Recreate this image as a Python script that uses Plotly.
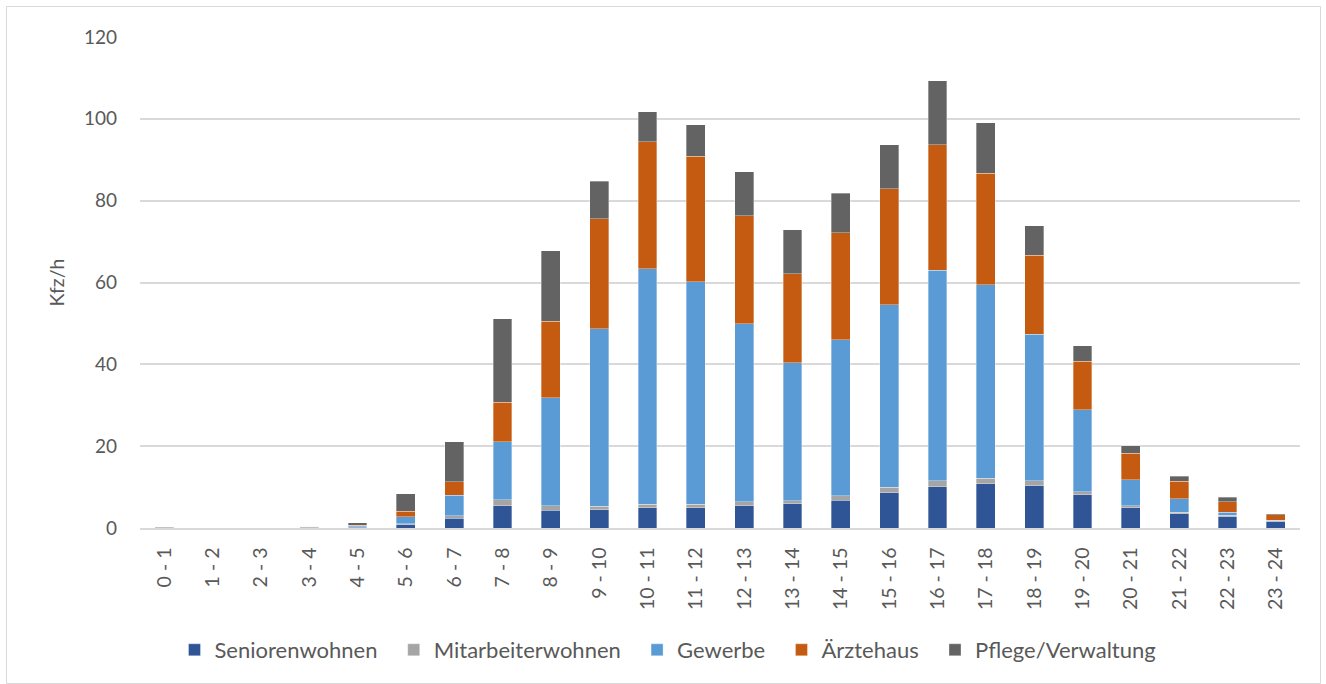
import plotly.graph_objects as go

categories = ["0 - 1", "1 - 2", "2 - 3", "3 - 4", "4 - 5", "5 - 6", "6 - 7", "7 - 8",
              "8 - 9", "9 - 10", "10 - 11", "11 - 12", "12 - 13", "13 - 14", "14 - 15",
              "15 - 16", "16 - 17", "17 - 18", "18 - 19", "19 - 20", "20 - 21", "21 - 22",
              "22 - 23", "23 - 24"]

seniorenwohnen = [0.1, 0.05, 0.05, 0.1, 0.2, 0.8, 2.4, 5.4, 4.4, 4.5, 4.9, 4.9, 5.5, 5.9,
                  6.8, 8.6, 10.1, 10.8, 10.3, 8.1, 4.9, 3.5, 2.7, 1.5]
mitarbeiterwohnen = [0.2, 0.05, 0.05, 0.3, 0.1, 0.3, 0.6, 1.5, 1.1, 0.8, 0.9, 0.9, 0.9, 0.8,
                     1.1, 1.3, 1.5, 1.3, 1.3, 0.8, 0.6, 0.3, 0.4, 0.3]
gewerbe = [0, 0, 0, 0, 0.2, 1.7, 5.0, 14.2, 26.3, 43.4, 57.6, 54.4, 43.5, 33.7, 38.1, 44.7,
           51.4, 47.3, 35.7, 20.0, 6.3, 3.4, 0.7, 0.1]
aerztehaus = [0, 0, 0, 0, 0.2, 1.3, 3.3, 9.6, 18.7, 26.9, 31.0, 30.6, 26.4, 21.8, 26.2, 28.3,
              30.7, 27.3, 19.3, 11.8, 6.5, 4.2, 2.6, 1.3]
pflege_verwaltung = [0, 0, 0, 0, 0.6, 4.3, 9.8, 20.4, 17.2, 9.1, 7.3, 7.8, 10.8, 10.7, 9.6,
                     10.8, 15.6, 12.4, 7.3, 3.9, 1.8, 1.3, 1.1, 0.3]

series_names = ["Seniorenwohnen", "Mitarbeiterwohnen", "Gewerbe", "Ärztehaus", "Pflege/Verwaltung"]
series_values = [seniorenwohnen, mitarbeiterwohnen, gewerbe, aerztehaus, pflege_verwaltung]
series_colors = ["#2F5597", "#A5A5A5", "#5B9BD5", "#C55A11", "#636363"]

FONT = "Lato"
TXT = "#595959"
PAD = "\u00a0\u00a0"

fig = go.Figure()
for i, (name, vals, col) in enumerate(zip(series_names, series_values, series_colors)):
    label = name + (PAD if i < len(series_names) - 1 else "")
    fig.add_trace(go.Bar(
        x=categories, y=vals, name=label,
        marker=dict(color=col, line=dict(color="rgba(255,255,255,0.55)", width=0.6)),
    ))

W, H = 1326, 684
ml, mr, mt, mb = 140, 26, 37, 156
pw = W - ml - mr
ph = H - mt - mb

def px_x(p):
    return (p - ml) / pw

def px_y(p):
    return (H - mb - p) / ph

fig.update_layout(
    width=W, height=H,
    barmode="stack", bargap=0.61,
    margin=dict(l=ml, r=mr, t=mt, b=mb),
    paper_bgcolor="white", plot_bgcolor="white",
    font=dict(family=FONT, size=18, color=TXT),
    legend=dict(orientation="h", x=px_x(668), xanchor="center", y=px_y(650), yanchor="middle",
                font=dict(family=FONT, size=22, color=TXT), traceorder="normal",
                itemclick=False),
    showlegend=True,
    shapes=[dict(type="rect", xref="paper", yref="paper",
                 x0=px_x(6.5), x1=px_x(1320.5), y0=px_y(683.5), y1=px_y(6.5),
                 line=dict(color="#D9D9D9", width=1), fillcolor="rgba(0,0,0,0)", layer="below")],
)

fig.update_xaxes(
    type="category", tickangle=-90, showgrid=False, showline=True,
    linecolor="#D9D9D9", linewidth=1.5, ticks="",
    tickfont=dict(family=FONT, size=19.5, color=TXT), ticklabelstandoff=10,
)
fig.update_yaxes(
    range=[0, 120], dtick=20, showgrid=True, gridcolor="#D9D9D9", gridwidth=1.5,
    zeroline=False, showline=False, ticks="",
    tickfont=dict(family=FONT, size=19, color=TXT), ticklabelstandoff=22,
    title=dict(text="Kfz/h", font=dict(family=FONT, size=19.5, color=TXT), standoff=14),
)

fig.write_html("out.html")
